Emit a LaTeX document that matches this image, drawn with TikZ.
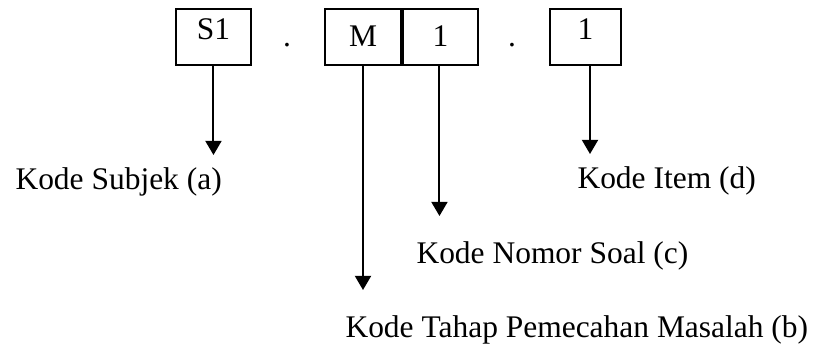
\documentclass[tikz,border=0pt]{standalone}
\usepackage{fontspec}
\setmainfont{Liberation Serif}
\usetikzlibrary{arrows.meta, positioning, calc}

\begin{document}
\begin{tikzpicture}[
    x=0.375pt, y=-0.375pt,
    font=\fontsize{11.8}{14}\selectfont,
    >={Triangle[length=5.3pt, width=6pt]}, % flat black arrowheads
    codebox/.style={draw, line width=0.75pt, inner sep=0pt, minimum height=21pt, anchor=north west},
    pointer/.style={->, line width=0.75pt},
    caption/.style={anchor=base west, inner sep=0pt}
]
    \useasboundingbox (0,0) rectangle (819,347);

    % === Code Boxes ===
    \node[codebox, minimum width=28.1pt, text height=11.25pt, text depth=9.75pt] (subj) at (175,8) {S1};
    \node[codebox, minimum width=28.5pt, text height=13.9pt, text depth=7.1pt] (stage) at (324,8) {M};
    \node[codebox, minimum width=28.1pt, text height=13.9pt, text depth=7.1pt] (num) at (stage.north east) {1};
    \node[codebox, minimum width=26.6pt, text height=11.6pt, text depth=9.4pt] (item) at (549,8) {1};

    % Separating dots
    \node[inner sep=0pt, anchor=base] (sepA) at (287,46) {.};
    \node[inner sep=0pt, anchor=base] (sepB) at (512,46) {.};

    % === Arrow Ends ===
    \coordinate (tipA) at ($(subj.south)+(0,89)$);
    \coordinate (tipB) at ($(stage.south)+(0,224)$);
    \coordinate (tipC) at ($(num.south)+(-1,150)$);
    \coordinate (tipD) at (590,154);

    % === Pointers ===
    \draw[pointer] (subj.south) -- (tipA);
    \draw[pointer] (stage.south) -- (tipB);
    \draw[pointer] (num.south -| tipC) -- (tipC);
    \draw[pointer] (item.south -| tipD) -- (tipD);

    % === Captions ===
    \node[caption] (capA) at (15,189) {Kode Subjek (a)};
    \node[caption] (capB) at (345,337) {Kode Tahap Pemecahan Masalah (b)};
    \node[caption] (capC) at (416,263) {Kode Nomor Soal (c)};
    \node[caption] (capD) at (577,188) {Kode Item (d)};

\end{tikzpicture}
\end{document}
